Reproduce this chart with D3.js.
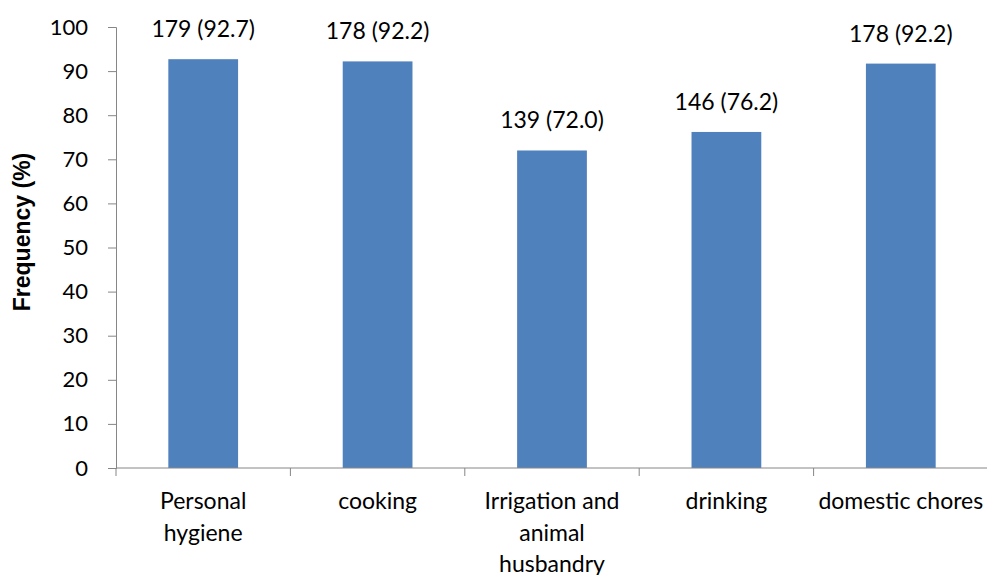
<!DOCTYPE html>
<html>
<head>
<meta charset="utf-8">
<script src="https://cdn.jsdelivr.net/npm/d3@7"></script>
<style>
body { margin: 0; background: #fff; }
text { font-family: Lato, "Open Sans", sans-serif; fill: #000; }
</style>
</head>
<body>
<div id="chart"></div>
<script>
var categories = [["Personal", "hygiene"], ["cooking"], ["Irrigation and", "animal", "husbandry"], ["drinking"], ["domestic chores"]];
var values = [92.7, 92.2, 72.0, 76.2, 91.7];
var barLabels = ["179 (92.7)", "178 (92.2)", "139 (72.0)", "146 (76.2)", "178 (92.2)"];
var yTicks = [0, 10, 20, 30, 40, 50, 60, 70, 80, 90, 100];

var width = 987, height = 575;
var plotLeft = 116, plotRight = 988, plotTop = 27, plotBottom = 468;

var svg = d3.select("#chart").append("svg")
	.attr("width", width)
	.attr("height", height);

var x = d3.scaleBand()
	.domain(d3.range(values.length))
	.range([plotLeft, plotRight])
	.paddingInner(0.6)
	.paddingOuter(0.3);

var y = d3.scaleLinear()
	.domain([0, 100])
	.range([plotBottom, plotTop]);

// y axis
var yAxis = svg.append("g")
	.attr("transform", "translate(" + plotLeft + ",0)")
	.call(d3.axisLeft(y).tickValues(yTicks).tickSize(8).tickPadding(20));
yAxis.select(".domain").attr("stroke", "#868686");
yAxis.selectAll(".tick line").attr("stroke", "#868686");
yAxis.selectAll(".tick text")
	.style("font-size", "22px")
	.style("font-family", "Lato, sans-serif")
	.attr("fill", "#222");

// bars
svg.selectAll(".bar")
	.data(values)
	.enter()
	.append("rect")
	.attr("class", "bar")
	.attr("x", (d, i) => x(i))
	.attr("y", (d) => y(d))
	.attr("width", x.bandwidth())
	.attr("height", (d) => y(0) - y(d))
	.attr("fill", "#4f81bd");

// x axis
var step = x.step();
var boundaries = d3.range(values.length + 1).map((i) => plotLeft + i * step);
svg.append("line")
	.attr("x1", plotLeft).attr("x2", plotRight)
	.attr("y1", plotBottom).attr("y2", plotBottom)
	.attr("stroke", "#868686");
svg.selectAll(".xtick")
	.data(boundaries)
	.enter()
	.append("line")
	.attr("class", "xtick")
	.attr("x1", (d) => d).attr("x2", (d) => d)
	.attr("y1", plotBottom).attr("y2", plotBottom + 8)
	.attr("stroke", "#868686");

// category labels
var catText = svg.selectAll(".cat")
	.data(categories)
	.enter()
	.append("text")
	.attr("class", "cat")
	.attr("text-anchor", "middle")
	.style("font-size", "23px")
	.attr("fill", "#222");
catText.selectAll("tspan")
	.data((d, i) => d.map((t) => ({ t: t, i: i })))
	.enter()
	.append("tspan")
	.attr("x", (d) => x(d.i) + x.bandwidth() / 2)
	.attr("y", (d, j) => 509 + j * 31.5)
	.text((d) => d.t);

// value labels
svg.selectAll(".val")
	.data(values)
	.enter()
	.append("text")
	.attr("class", "val")
	.attr("text-anchor", "middle")
	.attr("x", (d, i) => x(i) + x.bandwidth() / 2)
	.attr("y", (d) => y(d) - 22)
	.style("font-size", "23px")
	.text((d, i) => barLabels[i]);

// y title
svg.append("text")
	.attr("transform", "translate(30,232) rotate(-90)")
	.attr("text-anchor", "middle")
	.style("font-family", "Liberation Sans, Arial, sans-serif")
	.style("font-weight", "bold")
	.style("font-size", "23px")
	.text("Frequency (%)");
</script>
</body>
</html>
